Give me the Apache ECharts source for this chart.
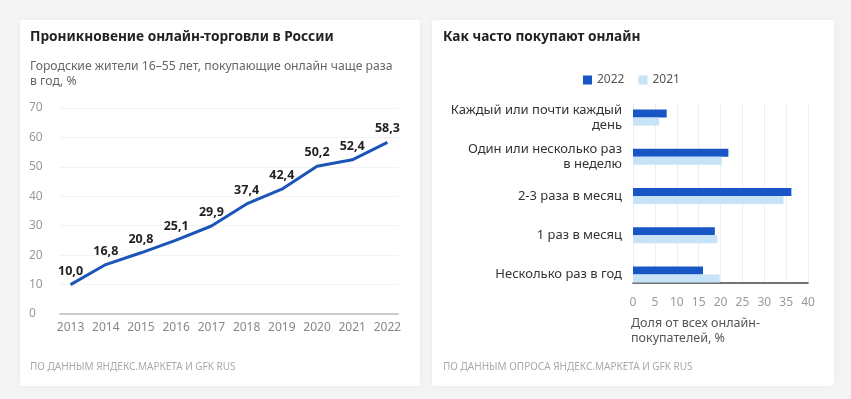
<!DOCTYPE html>
<html>
<head>
<meta charset="utf-8">
<script src="https://cdn.jsdelivr.net/npm/echarts@6/dist/echarts.min.js"></script>
<style>
  html, body { margin: 0; padding: 0; background: #f4f4f4; }
  #chart { width: 851px; height: 399px; }
</style>
</head>
<body>
<div id="chart"></div>
<script>
// левый график: доля онлайн-покупателей по годам
const years = [2013, 2014, 2015, 2016, 2017, 2018, 2019, 2020, 2021, 2022];
const shareValues = [10.0, 16.8, 20.8, 25.1, 29.9, 37.4, 42.4, 50.2, 52.4, 58.3];

// правый график: частота покупок
const freqCategories = [
  'Каждый или почти каждый\nдень',
  'Один или несколько раз\nв неделю',
  '2-3 раза в месяц',
  '1 раз в месяц',
  'Несколько раз в год'
];
const freq2022 = [7.7, 21.8, 36.2, 18.7, 16.0];
const freq2021 = [6.0, 20.3, 34.4, 19.3, 19.8];

const FONT = '"Noto Sans", "Open Sans", sans-serif';
const DARK = '#1756c4';
const LIGHT = '#c7e3f7';

const chart = echarts.init(document.getElementById('chart'), null, { renderer: 'canvas' });

chart.setOption({
  backgroundColor: '#f4f4f4',
  animation: false,
  textStyle: { fontFamily: FONT },
  graphic: [
    {
      type: 'rect', z: -10,
      shape: { x: 20, y: 20, width: 400, height: 366, r: 3 },
      style: { fill: '#fff', shadowBlur: 6, shadowColor: 'rgba(0,0,0,0.05)' }
    },
    {
      type: 'rect', z: -10,
      shape: { x: 432, y: 20, width: 402, height: 366, r: 3 },
      style: { fill: '#fff', shadowBlur: 6, shadowColor: 'rgba(0,0,0,0.05)' }
    }
  ],
  title: [
    {
      text: 'Проникновение онлайн-торговли в России',
      left: 30, top: 30, padding: 0,
      textStyle: { fontFamily: FONT, fontSize: 13.7, fontWeight: 'bold', color: '#222' }
    },
    {
      text: 'Городские жители 16–55 лет, покупающие онлайн чаще раза\nв год, %',
      left: 30, top: 59, padding: 0,
      textStyle: { fontFamily: FONT, fontSize: 12.2, fontWeight: 'normal', color: '#666', lineHeight: 15 }
    },
    {
      text: 'ПО ДАННЫМ ЯНДЕКС.МАРКЕТА И GFK RUS',
      left: 30, top: 362, padding: 0,
      textStyle: { fontFamily: FONT, fontSize: 10, fontWeight: 'normal', color: '#aaa' }
    },
    {
      text: 'Как часто покупают онлайн',
      left: 443, top: 30, padding: 0,
      textStyle: { fontFamily: FONT, fontSize: 13.7, fontWeight: 'bold', color: '#222' }
    },
    {
      text: 'Доля от всех онлайн-\nпокупателей, %',
      left: 631, top: 316, padding: 0,
      textStyle: { fontFamily: FONT, fontSize: 12.5, fontWeight: 'normal', color: '#555', lineHeight: 15 }
    },
    {
      text: 'ПО ДАННЫМ ОПРОСА ЯНДЕКС.МАРКЕТА И GFK RUS',
      left: 443, top: 362, padding: 0,
      textStyle: { fontFamily: FONT, fontSize: 10, fontWeight: 'normal', color: '#aaa' }
    }
  ],
  legend: {
    data: ['2022', '2021'],
    left: 578, top: 69,
    icon: 'rect', itemWidth: 9, itemHeight: 9, itemGap: 14,
    textStyle: { fontFamily: FONT, fontSize: 12, color: '#555' }
  },
  grid: [
    { left: 60, top: 108, width: 338, height: 206 },
    { left: 633, top: 98, width: 175, height: 196 },
    { left: 633, top: 103, width: 175, height: 180 }
  ],
  xAxis: [
    {
      type: 'value', gridIndex: 0, min: 2012.7, max: 2022.3,
      axisLine: { show: true, lineStyle: { color: '#ccc', width: 2 } },
      axisTick: { show: false },
      splitLine: { show: false },
      axisLabel: {
        customValues: years,
        formatter: (v) => String(Math.round(v)),
        color: '#888', fontSize: 12, margin: 8
      }
    },
    { type: 'value', gridIndex: 1, min: 0, max: 40, show: false },
    {
      type: 'value', gridIndex: 2, min: 0, max: 40, interval: 5,
      axisLine: { show: true, lineStyle: { color: '#444', width: 1.5 } },
      axisTick: { show: false },
      splitLine: { lineStyle: { color: '#eee' } },
      axisLabel: { color: '#999', fontSize: 12, margin: 14 }
    }
  ],
  yAxis: [
    {
      type: 'value', gridIndex: 0, min: 0, max: 70, interval: 10,
      axisLine: { show: false },
      axisTick: { show: false },
      splitLine: { lineStyle: { color: '#f3f3f3' } },
      axisLabel: { color: '#999', fontSize: 12, align: 'left', margin: 31 }
    },
    {
      type: 'category', gridIndex: 1, data: freqCategories, inverse: true,
      axisLine: { show: false },
      axisTick: { show: false },
      axisLabel: { color: '#333', fontSize: 13, lineHeight: 15, margin: 11 }
    },
    { type: 'value', gridIndex: 2, show: false }
  ],
  series: [
    {
      name: 'Проникновение',
      type: 'line',
      xAxisIndex: 0, yAxisIndex: 0,
      data: years.map((y, i) => [y, shareValues[i]]),
      symbol: 'circle', symbolSize: 0, showSymbol: true,
      lineStyle: { color: '#1c55b8', width: 3, join: 'round' },
      itemStyle: { color: '#1c55b8' },
      label: {
        show: true, position: 'top', distance: 7,
        formatter: (p) => p.value[1].toFixed(1).replace('.', ','),
        fontFamily: FONT, fontSize: 12.5, fontWeight: 'bold', color: '#222'
      }
    },
    {
      name: '2022',
      type: 'bar',
      xAxisIndex: 1, yAxisIndex: 1,
      data: freq2022,
      barWidth: 8, barGap: '0%',
      itemStyle: { color: DARK }
    },
    {
      name: '2021',
      type: 'bar',
      xAxisIndex: 1, yAxisIndex: 1,
      data: freq2021,
      barWidth: 8, barGap: '0%',
      itemStyle: { color: LIGHT }
    }
  ]
});
</script>
</body>
</html>
